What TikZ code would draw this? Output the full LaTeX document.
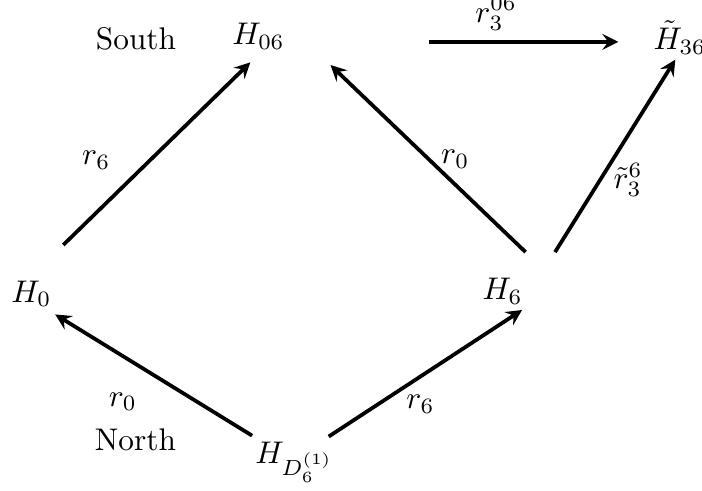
\documentclass[tikz,border=0pt]{standalone}
\usepackage{amsmath, amssymb}
\usepackage{xcolor}
\usepackage{tikz}

\begin{document}
\begin{tikzpicture}[>=stealth]
\useasboundingbox (0,0) rectangle (7.88,5.51);
% group labels
\node[anchor=base west, inner sep=0] (H06)  at (2.60,5.01) {$H_{06}$};
\node[anchor=base west, inner sep=0] (H36)  at (7.33,4.95) {$\tilde{H}_{36}$};
\node[anchor=base west, inner sep=0] (H0)   at (0.12,2.12) {$H_0$};
\node[anchor=base west, inner sep=0] (H6)   at (5.41,2.15) {$H_6$};
\node[anchor=base west, inner sep=0] (HD)   at (2.86,0.31) {$H_{D_6^{(1)}}$};
\node[anchor=base west, inner sep=0] (south) at (1.07,4.95) {South};
\node (north) at (1.52,0.57) {North};
% arrow ends
\coordinate (A0) at (0.71,2.76);
\coordinate (A1) at (2.81,4.81);
\coordinate (B0) at (5.90,2.68);
\coordinate (B1) at (3.71,4.78);
\coordinate (C0) at (6.23,2.68);
\coordinate (C1) at (7.58,4.84);
\coordinate (D0) at (4.81,5.04);
\coordinate (D1) at (6.94,5.04);
\coordinate (E0) at (2.83,0.62);
\coordinate (E1) at (0.62,1.98);
\coordinate (F0) at (3.69,0.61);
\coordinate (F1) at (5.86,2.03);
\draw[->, very thick] (A0) -- (A1);
\draw[->, very thick] (B0) -- (B1);
\draw[->, very thick] (C0) -- (C1);
\draw[->, very thick] (D0) -- (D1);
\draw[->, very thick] (E0) -- (E1);
\draw[->, very thick] (F0) -- (F1);
% maps
\node (ra) at (1.08,3.71) {$r_6$};
\node (rb) at (5.11,3.72) {$r_0$};
\node (rc) at (7.05,3.49) {$\tilde{r}_3^6$};
\node[anchor=base west, inner sep=0] (rd) at (5.33,5.26) {$r_3^{06}$};
\node (re) at (1.38,1.00) {$r_0$};
\node (rf) at (4.72,0.97) {$r_6$};
\end{tikzpicture}
\end{document}
